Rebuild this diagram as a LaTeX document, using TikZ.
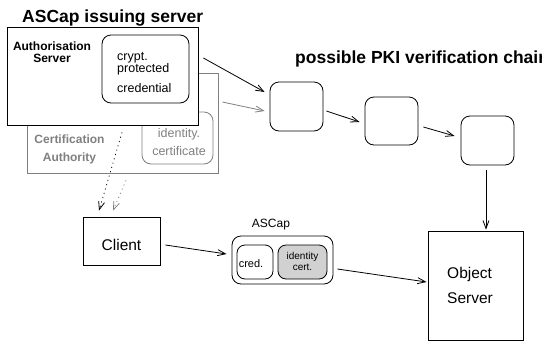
\documentclass[tikz,border=0pt]{standalone}
\usepackage{fontspec}
\setmainfont{Liberation Sans}
\usetikzlibrary{arrows.meta}

\newcommand{\setfs}[2]{\fontsize{#1}{#2}\selectfont}
\colorlet{cagray}{black!50}

\begin{document}
\begin{tikzpicture}[
  x=1pt, y=-1pt,
  box/.style={
    draw,
    line width=0.8pt,
    fill=white,
    inner sep=0pt
  },
  box_round/.style={
    box,
    rounded corners=9pt
  },
  box_gray/.style={
    box,
    draw=cagray
  },
  box_gray_round/.style={
    box_gray,
    rounded corners=9pt
  },
  text_bold/.style={
    inner sep=0pt,
    font=\bfseries
  },
  arrow/.style={
    draw,
    line width=0.8pt,
    -{Straight Barb[length=8pt,width=6pt]}
  },
  arrow_gray/.style={
    arrow,
    color=cagray
  },
  arrow_dotted/.style={
    arrow,
    dash pattern=on 1pt off 3.5pt
  }
]%
\useasboundingbox (0,0) rectangle (542,341);
% issuing server: certification authority behind, authorisation server in front
\node [box_gray, minimum width=191pt, minimum height=100pt] (ca) at (122.5,123) {};
\node [box_gray_round, minimum width=71pt, minimum height=52pt] (idcert) at (177.5,138) {};
\node [align=center, text=cagray, inner sep=0pt, font=\bfseries\setfs{12}{18}]
  (ca_text) at (69.5,149) {Certification\\Authority};
\node [align=center, text=cagray, inner sep=0pt, font=\setfs{12.5}{18}]
  (idcert_text) at (179,142) {identity.\\certificate};
\node [box, minimum width=191pt, minimum height=98pt] (auth) at (102.5,76) {};
\node [box_round, minimum width=87pt, minimum height=68pt] (credential) at (145.5,69) {};
\node [text_bold, align=center, font=\bfseries\setfs{12}{12.5}]
  (auth_text) at (52,52) {Authorisation\\Server};
\node [anchor=base west, align=left, inner sep=0pt, font=\setfs{12.5}{12.7}]
  (credential_text) at (117,92.7) {crypt.\\protected\\[7.3pt]credential};
\node [text_bold, anchor=base west, font=\bfseries\setfs{17.5}{17.5}]
  (title_server) at (22,22) {ASCap issuing server};

% verification chain
\node [text_bold, anchor=base west, font=\bfseries\setfs{17.5}{17.5}]
  (title_pki) at (295,63) {possible PKI verification chain};
\node [box_round, minimum width=53pt, minimum height=49pt] (pki1) at (296.5,106.5) {};
\node [box_round, minimum width=53pt, minimum height=48pt] (pki2) at (391.5,121) {};
\node [box_round, minimum width=53pt, minimum height=49pt] (pki3) at (487.5,140.5) {};

% client, capability and object server
\node [box, minimum width=77pt, minimum height=48pt, text height=18pt, text depth=0pt,
  font=\setfs{15.5}{15.5}] (client) at (121.5,241) {Client};
\node [box_round, minimum width=101pt, minimum height=48pt] (ascap) at (282.5,260) {};
\node [anchor=base, inner sep=0pt, font=\setfs{12}{12}] (ascap_text) at (271,227) {ASCap};
\node [box_round, rounded corners=8pt, minimum width=36pt, minimum height=34pt] (cred) at (255,262) {};
\node [anchor=base, inner sep=0pt, font=\setfs{11}{11}] (cred_text) at (251,267) {cred.};
\node [box_round, rounded corners=8pt, fill=black!18, minimum width=49pt, minimum height=34pt] (idc) at (302.5,262) {};
\node [align=center, inner sep=0pt, font=\setfs{10}{11}] (idc_text) at (302.5,261) {identity\\cert.};
\node [box, minimum width=95pt, minimum height=109pt] (objsrv) at (475.5,285.5) {};
\node [anchor=base west, align=left, inner sep=0pt, font=\setfs{15.5}{25}]
  (objsrv_text) at (447,303) {Object\\Server};

% connectors
\draw [arrow] ([shift={(5,-18)}]auth.east) -- ([shift={(-5,-14.5)}]pki1.west);
\draw [arrow_gray] ([shift={(4,-21)}]ca.east) -- ([shift={(-5,4.5)}]pki1.west);
\draw [arrow] ([shift={(3,4.5)}]pki1.east) -- ([shift={(-5,1)}]pki2.west);
\draw [arrow] ([shift={(5,6)}]pki2.east) -- ([shift={(-6,-4.5)}]pki3.west);
\draw [arrow] ([shift={(-1.5,5)}]pki3.south) -- ([shift={(-1.5,-1)}]pki3.south |- objsrv.north);
\draw [arrow] ([shift={(5,4)}]client.east) -- ([shift={(-5,-6)}]ascap.west);
\draw [arrow] ([shift={(4,9)}]ascap.east) -- ([shift={(-1,-3.5)}]objsrv.west);
\draw [arrow_dotted] ([shift={(19.5,7)}]auth.south) -- ([shift={(-22.5,-6)}]client.north);
\draw [arrow_dotted, color=cagray] ([shift={(3.5,7)}]ca.south) -- ([shift={(-8.5,-6)}]client.north);
\end{tikzpicture}
\end{document}
